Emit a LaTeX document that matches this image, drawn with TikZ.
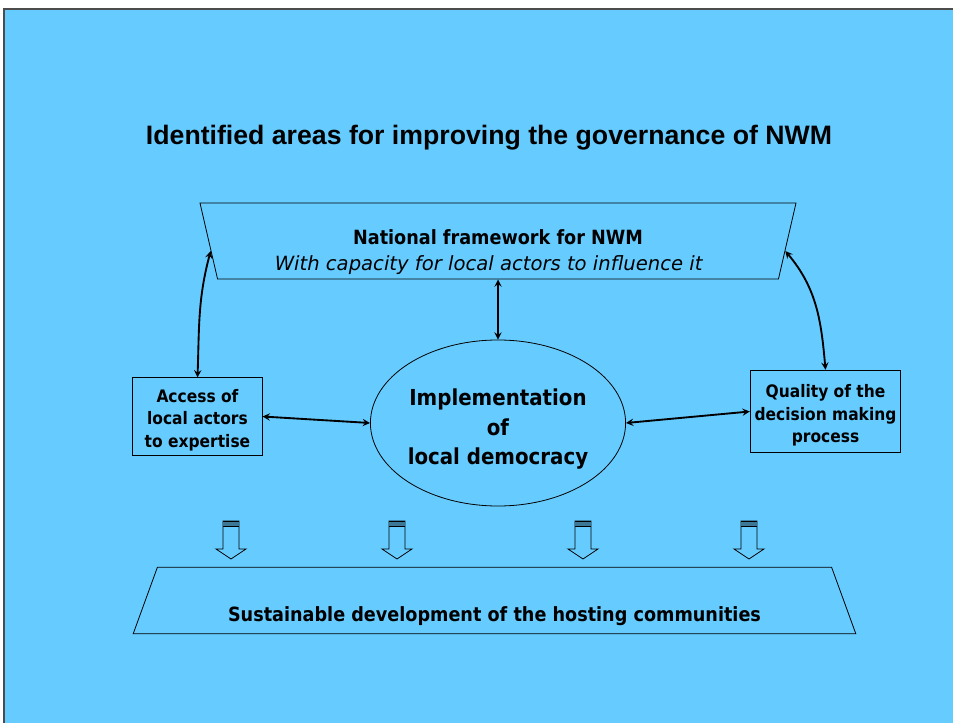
\documentclass[tikz,border=0pt]{standalone}
\usepackage{fontspec}
\setmainfont{DejaVu Sans Condensed}
\newfontfamily\titlefont{Liberation Sans}
\newfontfamily\widefont{DejaVu Sans}
\usetikzlibrary{shapes.geometric,arrows,positioning}

\definecolor{slide}{RGB}{102,204,255}
\definecolor{stripe}{RGB}{60,120,150}

% centred lines, shifted up or down inside their node (optional: half height of the box)
\newcommand{\stacklines}[3][8pt]{\raisebox{#2}[#1][#1]{\begin{tabular}{@{}c@{}}#3\end{tabular}}}

\begin{document}
\begin{tikzpicture}[
    x=0.75pt, y=-0.75pt,
    frame/.style={draw=black, line width=0.6pt, fill=slide},
    trap/.style={frame, trapezium, trapezium stretches body=true, inner sep=0pt, font=\bfseries\fontsize{14.7}{19.5}\selectfont},
    block/.style={frame, rectangle, inner sep=0pt, font=\bfseries\fontsize{12.9}{17}\selectfont},
    arrow/.style={line width=1.4pt,<->,>=stealth}
]
\useasboundingbox (0,0) rectangle (953,723);
\fill[white] (0,0) rectangle (953,723);
\fill[slide] (4,9) rectangle (953,723);
\draw[black!70, line width=1pt] (4,723) -- (4,9) -- (953,9);

% Title
\node[font=\titlefont\bfseries\fontsize{20}{24}\selectfont] (title) at (489,138) {Identified areas for improving the governance of NWM};

% Nodes
\node[trap, shape border rotate=180, trapezium angle=77, minimum width=447pt, minimum height=57pt] (nwm) at (498,241)
    {\stacklines[28.5pt]{-12pt}{National framework for NWM\\ \mdseries\widefont\itshape With capacity for local actors to influence it\hspace*{14pt}}};
\node[frame, ellipse, inner sep=0pt, minimum width=184.5pt, minimum height=124.5pt,
    font=\bfseries\fontsize{16.5}{22}\selectfont] (impl) at (498,423) {\stacklines{-9pt}{Implementation\\ of\\ local democracy}};
\node[block, minimum width=97pt, minimum height=58pt] (access) at (197.5,416.5) {\stacklines{-5.8pt}{Access of\\ local actors\\ to expertise}};
\node[block, minimum width=113pt, minimum height=62pt] (quality) at (825.5,411.5) {\stacklines{-6.2pt}{Quality of the\\ decision making\\ process}};
\node[trap, trapezium angle=70, minimum width=542pt, minimum height=50pt] (sust) at (494.5,600.5)
    {\raisebox{-15.8pt}[25pt][25pt]{Sustainable development of the hosting communities}};

% Arrows
\draw[arrow] (nwm.south) -- (impl.north);
\draw[arrow] (access.east) -- (impl.west);
\draw[arrow] (impl.east) -- (quality.west);
\draw[arrow] (access.north) to[out=88,in=-105] (nwm.182);
\draw[arrow] (quality.north) to[out=95,in=-50] (nwm.358);

% Hollow arrows down to the base
\foreach \x in {231,397,583,749}{
    \draw[fill=slide, line width=0.6pt] (\x-8,521) -- (\x+8,521) -- (\x+8,549) -- (\x+15,549)
        -- (\x,559) -- (\x-15,549) -- (\x-8,549) -- cycle;
    \fill[stripe] (\x-8,521) rectangle (\x+8,526);
    \draw[line width=0.8pt] (\x-8,521.5) -- (\x+8,521.5);
    \draw[line width=0.6pt] (\x-8,526) -- (\x+8,526);
}
\end{tikzpicture}
\end{document}
